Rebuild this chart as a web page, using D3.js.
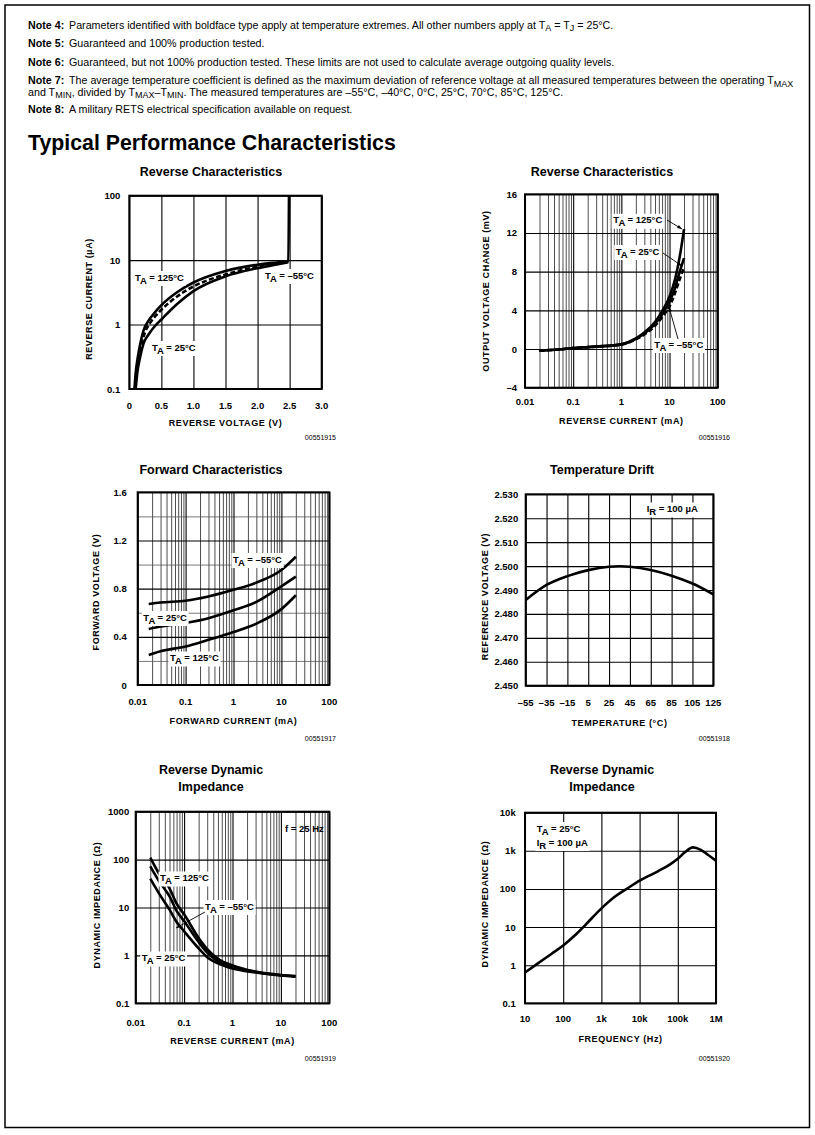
<!DOCTYPE html>
<html>
<head>
<meta charset="utf-8">
<script src="https://cdn.jsdelivr.net/npm/d3@7"></script>
<style>
  body { margin: 0; background: #fff; }
  svg text { font-family: "Liberation Sans", Arial, Helvetica, sans-serif; fill: #000; }
  .tick-lbl { font-size: 9.5px; font-weight: bold; }
  .ax-title { font-size: 9px; font-weight: bold; letter-spacing: 0.6px; }
  .ch-title { font-size: 12.5px; font-weight: bold; }
  .lbl { font-size: 9.5px; font-weight: bold; }
  .fig-id { font-size: 7px; }
  .note { font-size: 10.7px; }
</style>
</head>
<body>
<svg id="page" width="815" height="1135"></svg>
<script>
// ---- data ----

// Reverse Characteristics: reverse voltage (V) vs reverse current (uA)
const revVoltTicks = [0, 0.5, 1.0, 1.5, 2.0, 2.5, 3.0];
const revVoltLabels = ["0", "0.5", "1.0", "1.5", "2.0", "2.5", "3.0"];
const revUaTicks = [0.1, 1, 10, 100];
const revUaLabels = ["0.1", "1", "10", "100"];
const rev_125 = [[0.08,0.1],[0.1,0.18],[0.13,0.3],[0.17,0.5],[0.22,0.8],[0.3,1.15],[0.4,1.55],[0.5,2.0],[0.75,3.2],[1.0,4.5],[1.5,6.8],[2.0,8.5],[2.3,9.2],[2.48,9.6],[2.49,100]];
const rev_m55 = [[0.09,0.1],[0.11,0.18],[0.145,0.3],[0.19,0.5],[0.25,0.78],[0.33,1.08],[0.42,1.4],[0.5,1.7],[0.75,2.75],[1.0,3.9],[1.5,6.0],[2.0,7.9],[2.3,8.8],[2.48,9.4]];
const rev_25 = [[0.1,0.1],[0.125,0.18],[0.165,0.3],[0.22,0.5],[0.3,0.7],[0.4,0.95],[0.5,1.2],[0.75,2.1],[1.0,3.3],[1.5,5.6],[2.0,7.5],[2.3,8.6],[2.48,9.3]];

// Reverse Characteristics: reverse current (mA) vs output voltage change (mV)
const decadeTicks = [0.01, 0.1, 1, 10, 100];
const decadeLabels = ["0.01", "0.1", "1", "10", "100"];
const mvTicks = [-4, 0, 4, 8, 12, 16];
const mvLabels = ["\u20134", "0", "4", "8", "12", "16"];
const dv_125 = [[0.02,-0.17],[0.05,-0.05],[0.1,0.1],[0.3,0.25],[1,0.5],[2,1.1],[3,1.7],[5,2.8],[7,3.9],[10,5.4],[13,7.2],[15,8.6],[17,10.1],[20,12.4]];
const dv_25 = [[0.02,-0.17],[0.05,-0.05],[0.1,0.1],[0.3,0.25],[1,0.48],[2,1.05],[3,1.6],[5,2.6],[7,3.6],[10,4.9],[13,6.3],[15,7.4],[17,8.3],[20,9.4]];
const dv_m55 = [[0.02,-0.17],[0.05,-0.05],[0.1,0.1],[0.3,0.24],[1,0.45],[2,1.0],[3,1.5],[5,2.4],[7,3.3],[10,4.4],[13,5.8],[15,6.7],[17,7.5],[20,8.4]];

// Forward Characteristics: forward current (mA) vs forward voltage (V)
const fwdVTicks = [0, 0.4, 0.8, 1.2, 1.6];
const fwdVLabels = ["0", "0.4", "0.8", "1.2", "1.6"];
const fwdVMinor = [0.2, 0.6, 1.0, 1.4];
const fwd_m55 = [[0.017,0.672],[0.03,0.685],[0.1,0.70],[0.3,0.735],[1,0.79],[3,0.85],[10,0.955],[20,1.065]];
const fwd_25 = [[0.017,0.465],[0.03,0.485],[0.1,0.515],[0.3,0.555],[1,0.62],[3,0.69],[10,0.82],[20,0.90]];
const fwd_125 = [[0.017,0.25],[0.03,0.28],[0.1,0.32],[0.3,0.375],[1,0.44],[3,0.51],[10,0.63],[20,0.745]];

// Temperature Drift
const tempTicks = [-55, -35, -15, 5, 25, 45, 65, 85, 105, 125];
const tempLabels = ["\u201355", "\u201335", "\u201315", "5", "25", "45", "65", "85", "105", "125"];
const refTicks = [2.45, 2.46, 2.47, 2.48, 2.49, 2.50, 2.51, 2.52, 2.53];
const refLabels = ["2.450", "2.460", "2.470", "2.480", "2.490", "2.500", "2.510", "2.520", "2.530"];
const driftTemp = [-55, -35, -15, 5, 25, 35, 45, 65, 85, 105, 125];
const driftVolt = [2.4858, 2.4921, 2.4958, 2.4983, 2.4997, 2.4999, 2.4997, 2.4984, 2.4960, 2.4927, 2.4882];

// Reverse Dynamic Impedance vs reverse current
const ohmTicks = [0.1, 1, 10, 100, 1000];
const ohmLabels = ["0.1", "1", "10", "100", "1000"];
const zi_125 = [[0.02,110],[0.03,52],[0.05,25],[0.07,12],[0.1,7.2],[0.2,2.3],[0.3,1.35],[0.5,0.85],[1,0.62],[3,0.46],[10,0.39],[20,0.37]];
const zi_m55 = [[0.02,72],[0.03,36],[0.05,17],[0.07,8.5],[0.1,5.2],[0.2,1.9],[0.3,1.15],[0.5,0.76],[1,0.57],[3,0.45],[10,0.385],[20,0.365]];
const zi_25 = [[0.02,40],[0.03,20],[0.05,9],[0.07,5],[0.1,3.2],[0.2,1.4],[0.3,0.92],[0.5,0.68],[1,0.53],[3,0.44],[10,0.38],[20,0.36]];

// Reverse Dynamic Impedance vs frequency
const freqTicks = [10, 100, 1e3, 1e4, 1e5, 1e6];
const freqLabels = ["10", "100", "1k", "10k", "100k", "1M"];
const zfTicks = [0.1, 1, 10, 100, 1e3, 1e4];
const zfLabels = ["0.1", "1", "10", "100", "1k", "10k"];
const zfFreq = [10, 20, 50, 100, 200, 400, 1e3, 2e3, 5e3, 1e4, 3e4, 6e4, 1e5, 1.5e5, 2.5e5, 4e5, 6e5, 1e6];
const zfOhm = [0.64, 1.05, 2.0, 3.3, 6.0, 12, 31, 57, 106, 165, 290, 430, 620, 900, 1230, 1060, 800, 550];

// minor log grid lines (2..9 in each decade)
function minorLog(lo, hi) {
  const out = [];
  for (let d = lo; d < hi; d *= 10) for (let k = 2; k <= 9; k++) out.push(d * k);
  return out;
}

const svg = d3.select("#page");

// page frame
svg.append("rect").attr("x", 5).attr("y", 5).attr("width", 804.5).attr("height", 1122.5)
  .attr("fill", "none").attr("stroke", "#000").attr("stroke-width", 1.5);

// ---- notes ----
const notes = [
  { tag: "Note 4:", y: 28.5, x: 69, parts: [["Parameters identified with boldface type apply at temperature extremes. All other numbers apply at T"], ["A", 1], [" = T"], ["J", 1], [" = 25\u00B0C."]] },
  { tag: "Note 5:", y: 47, x: 69, parts: [["Guaranteed and 100% production tested."]] },
  { tag: "Note 6:", y: 65.5, x: 69, parts: [["Guaranteed, but not 100% production tested. These limits are not used to calculate average outgoing quality levels."]] },
  { tag: "Note 7:", y: 84, x: 69, parts: [["The average temperature coefficient is defined as the maximum deviation of reference voltage at all measured temperatures between the operating T"], ["MAX", 1]] },
  { tag: "", y: 95.5, x: 28, parts: [["and T"], ["MIN", 1], [", divided by T"], ["MAX", 1], ["\u2013T"], ["MIN", 1], [". The measured temperatures are \u201355\u00B0C, \u201340\u00B0C, 0\u00B0C, 25\u00B0C, 70\u00B0C, 85\u00B0C, 125\u00B0C."]] },
  { tag: "Note 8:", y: 113, x: 69, parts: [["A military RETS electrical specification available on request."]] }
];
notes.forEach(n => {
  if (n.tag) svg.append("text").attr("class", "note").attr("x", 28).attr("y", n.y).attr("font-weight", "bold").text(n.tag);
  const t = svg.append("text").attr("class", "note").attr("x", n.x).attr("y", n.y);
  let low = false;
  n.parts.forEach(p => {
    const sub = !!p[1];
    const dy = sub && !low ? 2.5 : (!sub && low ? -2.5 : 0);
    t.append("tspan").attr("dy", dy).attr("font-size", sub ? "9px" : null).text(p[0]);
    low = sub;
  });
});

svg.append("text").attr("x", 28).attr("y", 149.5).attr("font-size", "21.3px").attr("font-weight", "bold")
  .text("Typical Performance Characteristics");

// ---- generic chart frame ----
function gridLines(g, axis, vals, size, shift, width, color) {
  g.append("g").attr("transform", shift)
    .call(axis.tickValues(vals).tickSize(size).tickFormat(""))
    .call(s => {
      s.select(".domain").remove();
      s.selectAll("line").attr("stroke", color).attr("stroke-width", width);
    });
}

function drawChart(o) {
  const g = svg.append("g");
  const x = (o.xLog ? d3.scaleLog() : d3.scaleLinear()).domain(o.xDomain).range([o.l, o.r]);
  const y = (o.yLog ? d3.scaleLog() : d3.scaleLinear()).domain(o.yDomain).range([o.b, o.t]);
  const w = o.r - o.l, h = o.b - o.t;

  if (o.xMinor) gridLines(g, d3.axisBottom(x), o.xMinor, -h, `translate(0,${o.b})`, 0.7, "#000");
  if (o.yMinor) gridLines(g, d3.axisLeft(y), o.yMinor, -w, `translate(${o.l},0)`, 0.8, "#555");
  gridLines(g, d3.axisBottom(x), o.xTicks, -h, `translate(0,${o.b})`, 1.1, "#000");
  gridLines(g, d3.axisLeft(y), o.yTicks, -w, `translate(${o.l},0)`, 1.1, "#000");

  g.append("rect").attr("x", o.l).attr("y", o.t).attr("width", w).attr("height", h)
    .attr("fill", "none").attr("stroke", "#000").attr("stroke-width", 2);

  g.selectAll("text.xt").data(o.xTicks).join("text").attr("class", "tick-lbl xt")
    .attr("x", d => x(d)).attr("y", o.tickY).attr("text-anchor", "middle")
    .text((d, i) => o.xLabels[i]);
  g.selectAll("text.yt").data(o.yTicks).join("text").attr("class", "tick-lbl yt")
    .attr("x", o.l - (o.yPad || 8)).attr("y", d => y(d) + 3.5).attr("text-anchor", "end")
    .text((d, i) => o.yLabels[i]);

  o.title.forEach((t, i) => g.append("text").attr("class", "ch-title").attr("x", o.tx)
    .attr("y", o.titleY[i]).attr("text-anchor", "middle").text(t));
  g.append("text").attr("class", "ax-title").attr("x", (o.l + o.r) / 2 + (o.xtShift || 0)).attr("y", o.xTitleY)
    .attr("text-anchor", "middle").text(o.xTitle);
  g.append("text").attr("class", "ax-title").attr("text-anchor", "middle")
    .attr("transform", `translate(${o.yTitleX + 3.3},${o.yTitleY}) rotate(-90)`).text(o.yTitle);
  g.append("text").attr("class", "fig-id").attr("x", o.idX).attr("y", o.idY)
    .attr("text-anchor", "end").text(o.id);
  return { g, x, y };
}

function curve(c, pts, dashed) {
  const line = d3.line().x(d => c.x(d[0])).y(d => c.y(d[1])).curve(d3.curveMonotoneX);
  c.g.append("path").attr("d", line(pts)).attr("fill", "none").attr("stroke", "#000")
    .attr("stroke-width", 2.6).attr("stroke-dasharray", dashed ? "5,2.5" : null);
}

// label such as T_A = 25°C with a white background
function subLabel(c, x, y, main, sub, rest) {
  const t = c.g.append("text").attr("class", "lbl").attr("x", x).attr("y", y);
  t.append("tspan").text(main);
  t.append("tspan").attr("dy", 3).text(sub);
  t.append("tspan").attr("dy", -3).text(rest);
  const b = t.node().getBBox();
  c.g.insert("rect", () => t.node()).attr("x", b.x - 1.5).attr("y", b.y - 0.5)
    .attr("width", b.width + 3).attr("height", b.height + 1).attr("fill", "#fff");
  return t;
}
function pointer(c, x1, y1, x2, y2) {
  c.g.append("line").attr("x1", x1).attr("y1", y1).attr("x2", x2).attr("y2", y2)
    .attr("stroke", "#000").attr("stroke-width", 0.9);
  const a = Math.atan2(y2 - y1, x2 - x1);
  const p = [[x2, y2], [x2 - 5 * Math.cos(a - 0.35), y2 - 5 * Math.sin(a - 0.35)], [x2 - 5 * Math.cos(a + 0.35), y2 - 5 * Math.sin(a + 0.35)]];
  c.g.append("path").attr("d", "M" + p.join("L") + "Z").attr("fill", "#000");
}

// ---- chart 1 ----
const c1 = drawChart({
  l: 129.3, r: 321.7, t: 195.7, b: 389, xDomain: [0, 3], yLog: true, yDomain: [0.1, 100],
  xTicks: revVoltTicks, xLabels: revVoltLabels, yTicks: revUaTicks, yLabels: revUaLabels, yPad: 9,
  tickY: 409, title: ["Reverse Characteristics"], titleY: [176], tx: 211,
  xTitle: "REVERSE VOLTAGE (V)", xTitleY: 425.5, yTitle: "REVERSE CURRENT (\u00B5A)", yTitleX: 88.3, yTitleY: 299,
  id: "00551915", idX: 336, idY: 439.5
});
curve(c1, rev_125);
curve(c1, rev_m55, true);
curve(c1, rev_25);
subLabel(c1, 135, 280.5, "T", "A", " = 125\u00B0C");
subLabel(c1, 265, 278.5, "T", "A", " = \u201355\u00B0C");
subLabel(c1, 152, 350.5, "T", "A", " = 25\u00B0C");

// ---- chart 2 ----
const c2 = drawChart({
  l: 525, r: 717.7, t: 194.3, b: 387.7, xLog: true, xDomain: [0.01, 100], yDomain: [-4, 16],
  xTicks: decadeTicks, xLabels: decadeLabels, xMinor: minorLog(0.01, 100), yTicks: mvTicks, yLabels: mvLabels,
  tickY: 404.5, title: ["Reverse Characteristics"], titleY: [176], tx: 602,
  xTitle: "REVERSE CURRENT (mA)", xTitleY: 424, yTitle: "OUTPUT VOLTAGE CHANGE (mV)", yTitleX: 486, yTitleY: 291,
  id: "00551916", idX: 730, idY: 440
});
curve(c2, dv_m55, true);
curve(c2, dv_25);
curve(c2, dv_125);
subLabel(c2, 613.3, 223.3, "T", "A", " = 125\u00B0C");
subLabel(c2, 615.7, 254.5, "T", "A", " = 25\u00B0C");
subLabel(c2, 654.3, 347.5, "T", "A", " = \u201355\u00B0C");
pointer(c2, 667, 220, 682, 229);
pointer(c2, 663, 253, 682, 266);
pointer(c2, 678, 339, 669, 307);

// ---- chart 3 ----
const c3 = drawChart({
  l: 137.7, r: 329.3, t: 492.3, b: 685, xLog: true, xDomain: [0.01, 100], yDomain: [0, 1.6],
  xTicks: decadeTicks, xLabels: decadeLabels, xMinor: minorLog(0.01, 100),
  yTicks: fwdVTicks, yLabels: fwdVLabels, yMinor: fwdVMinor, yPad: 11,
  tickY: 705, title: ["Forward Characteristics"], titleY: [474], tx: 211,
  xTitle: "FORWARD CURRENT (mA)", xTitleY: 724, yTitle: "FORWARD VOLTAGE (V)", yTitleX: 95.5, yTitleY: 592,
  id: "00551917", idX: 336, idY: 741
});
curve(c3, fwd_m55);
curve(c3, fwd_25);
curve(c3, fwd_125);
subLabel(c3, 233, 562.5, "T", "A", " = \u201355\u00B0C");
subLabel(c3, 143.3, 620.5, "T", "A", " = 25\u00B0C");
subLabel(c3, 170, 661, "T", "A", " = 125\u00B0C");

// ---- chart 4 ----
const c4 = drawChart({
  l: 525.7, r: 713.3, t: 494.3, b: 685.7, xDomain: [-55, 125], yDomain: [2.45, 2.53],
  xTicks: tempTicks, xLabels: tempLabels, yTicks: refTicks, yLabels: refLabels, yPad: 7.5,
  tickY: 706, title: ["Temperature Drift"], titleY: [474], tx: 602,
  xTitle: "TEMPERATURE (\u00B0C)", xTitleY: 725.5, yTitle: "REFERENCE VOLTAGE (V)", yTitleX: 484.5, yTitleY: 596.5,
  id: "00551918", idX: 730, idY: 741
});
curve(c4, driftTemp.map((t, i) => [t, driftVolt[i]]));
subLabel(c4, 646.7, 512, "I", "R", " = 100 \u00B5A");

// ---- chart 5 ----
const c5 = drawChart({
  l: 135.7, r: 329.3, t: 811.7, b: 1003.3, xLog: true, xDomain: [0.01, 100], yLog: true, yDomain: [0.1, 1000],
  xTicks: decadeTicks, xLabels: decadeLabels, xMinor: minorLog(0.01, 100), yTicks: ohmTicks, yLabels: ohmLabels, yPad: 6.5,
  tickY: 1025.5, title: ["Reverse Dynamic", "Impedance"], titleY: [774, 790.5], tx: 211,
  xTitle: "REVERSE CURRENT (mA)", xTitleY: 1044, yTitle: "DYNAMIC IMPEDANCE (\u03A9)", yTitleX: 96.7, yTitleY: 905,
  id: "00551919", idX: 336, idY: 1060.5
});
curve(c5, zi_125);
curve(c5, zi_m55);
curve(c5, zi_25);
subLabel(c5, 160, 881, "T", "A", " = 125\u00B0C");
subLabel(c5, 205, 909.5, "T", "A", " = \u201355\u00B0C");
subLabel(c5, 141.7, 961, "T", "A", " = 25\u00B0C");
pointer(c5, 205, 912, 176, 928);
c5.g.append("text").attr("class", "lbl").attr("x", 285).attr("y", 832).text("f = 25 Hz");

// ---- chart 6 ----
const c6 = drawChart({
  l: 525, r: 716, t: 812.7, b: 1003.3, xLog: true, xDomain: [10, 1e6], yLog: true, yDomain: [0.1, 1e4],
  xTicks: freqTicks, xLabels: freqLabels, yTicks: zfTicks, yLabels: zfLabels, yPad: 9.3,
  tickY: 1022, title: ["Reverse Dynamic", "Impedance"], titleY: [774, 790.5], tx: 602,
  xTitle: "FREQUENCY (Hz)", xTitleY: 1042, yTitle: "DYNAMIC IMPEDANCE (\u03A9)", yTitleX: 485, yTitleY: 904,
  id: "00551920", idX: 730, idY: 1060.5
});
curve(c6, zfFreq.map((f, i) => [f, zfOhm[i]]));
subLabel(c6, 536.7, 831.5, "T", "A", " = 25\u00B0C");
subLabel(c6, 536.7, 845.5, "I", "R", " = 100 \u00B5A");
</script>
</body>
</html>
